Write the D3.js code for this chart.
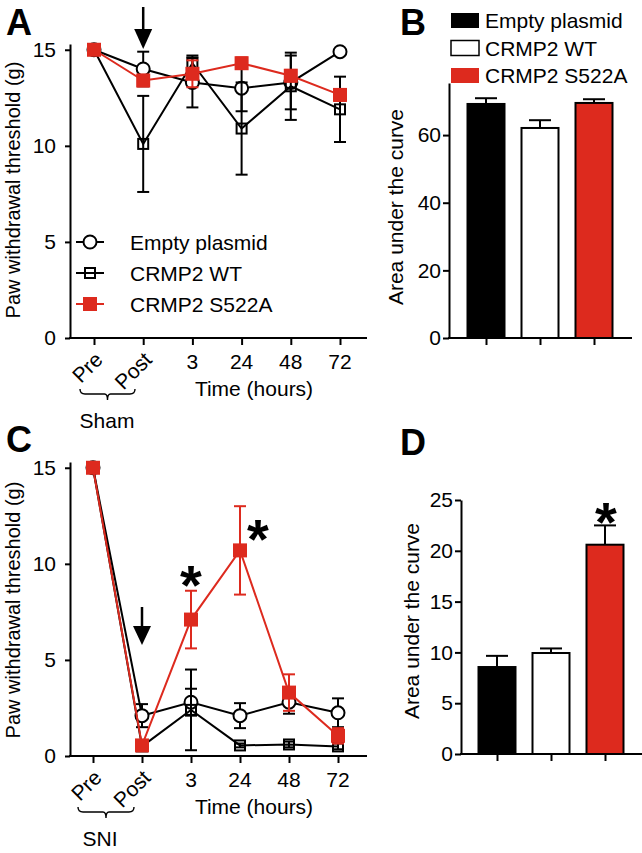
<!DOCTYPE html>
<html><head><meta charset="utf-8">
<script src="https://cdn.jsdelivr.net/npm/d3@7"></script>
<style>body{margin:0;background:#fff}</style>
</head><body>
<svg id="c" width="642" height="853" xmlns="http://www.w3.org/2000/svg"></svg>
<script>
// ---------- data ----------
const timeLabels = ["Pre", "Post", "3", "24", "48", "72"];
const seriesNames = ["Empty plasmid", "CRMP2 WT", "CRMP2 S522A"];
const lineTicks = [0, 5, 10, 15];

// Panel A (Sham)
const shamEmpty    = [15, 14.0, 13.3, 13.0, 13.3, 14.9];
const shamEmptyErr = [0, 0.9, 1.3, 1.2, 1.4, 0];
const shamWT       = [15, 10.1, 14.3, 10.9, 13.1, 11.9];
const shamWTErr    = [0, 2.5, 0.4, 2.4, 1.75, 1.7];
const shamS522A    = [15, 13.4, 13.75, 14.3, 13.65, 12.65];
const shamS522AErr = [0, 0.3, 0.7, 0.3, 0.3, 0.3];

// Panel B (AUC sham)
const aucSham    = [69.2, 62.1, 69.5];
const aucShamErr = [1.7, 2.3, 1.1];
const aucShamTicks = [0, 20, 40, 60];

// Panel C (SNI)
const sniEmpty    = [15, 2.1, 2.8, 2.1, 2.8, 2.25];
const sniEmptyErr = [0, 0.6, 0.7, 0.65, 0.6, 0.75];
const sniWT       = [15, 0.5, 2.4, 0.55, 0.6, 0.5];
const sniWTErr    = [0, 0.1, 2.1, 0.1, 0.15, 0.15];
const sniS522A    = [15, 0.55, 7.1, 10.7, 3.3, 1.05];
const sniS522AErr = [0, 0.1, 1.5, 2.3, 0.95, 0.4];

// Panel D (AUC SNI)
const aucSni    = [8.56, 9.94, 20.6];
const aucSniErr = [1.1, 0.45, 1.9];
const aucSniTicks = [0, 5, 10, 15, 20, 25];

// ---------- style ----------
const FONT = "'Liberation Sans', Arial, Helvetica, sans-serif";
const RED = "#dd2a1e";
const FS = 21;
const svg = d3.select("#c").style("font-family", FONT);

function styleAxis(g) {
  g.selectAll("path,line").attr("stroke", "#000").attr("stroke-width", 2);
  g.selectAll("text").attr("font-size", FS).attr("fill", "#000").style("font-family", FONT);
}

function linePanel(cfg) {
  const g = svg.append("g");
  const x = d3.scalePoint().domain(timeLabels).range(cfg.xr);
  const y = d3.scaleLinear().domain([0, 15.3]).range(cfg.yr);
  const y0 = y(0);
  // y axis
  const ya = g.append("g").attr("transform", `translate(${cfg.ax},0)`)
    .call(d3.axisLeft(y).tickValues(lineTicks).tickSize(5).tickSizeOuter(0).tickPadding(9));
  styleAxis(ya);
  // x axis ticks
  const xa = g.append("g").attr("transform", `translate(0,${y0})`)
    .call(d3.axisBottom(x).tickSize(7).tickFormat(""));
  xa.select(".domain").remove();
  styleAxis(xa);
  g.append("line").attr("x1", cfg.ax - 1).attr("x2", cfg.axEnd).attr("y1", y0).attr("y2", y0)
    .attr("stroke", "#000").attr("stroke-width", 2);
  // x labels
  timeLabels.forEach((t, i) => {
    if (i < 2) {
      g.append("text").attr("transform", `translate(${x(t) + 10},${y0 + 23}) rotate(-45)`)
        .attr("text-anchor", "end").attr("font-size", FS).text(t);
    } else {
      g.append("text").attr("x", x(t)).attr("y", y0 + 31).attr("text-anchor", "middle")
        .attr("font-size", FS).text(t);
    }
  });
  g.append("text").attr("x", 254).attr("y", y0 + 58).attr("text-anchor", "middle")
    .attr("font-size", FS).text("Time (hours)");
  // bracket
  const bx1 = cfg.bx[0], bx2 = cfg.bx[1], bm = (bx1 + bx2) / 2, by = y0 + 56;
  g.append("path")
    .attr("d", `M${bx1},${by - 5} Q${bx1},${by} ${bx1 + 5},${by} L${bm - 3},${by} Q${bm},${by} ${bm},${by + 6} Q${bm},${by} ${bm + 3},${by} L${bx2 - 5},${by} Q${bx2},${by} ${bx2},${by - 5}`)
    .attr("fill", "none").attr("stroke", "#000").attr("stroke-width", 1.4);
  g.append("text").attr("x", cfg.groupX).attr("y", y0 + 90).attr("text-anchor", "middle")
    .attr("font-size", FS).text(cfg.group);
  // y label
  g.append("text").attr("transform", `translate(20,${cfg.ylabY}) rotate(-90)`)
    .attr("text-anchor", "middle").attr("font-size", 20).text("Paw withdrawal threshold (g)");
  // arrow
  const axp = x("Post");
  g.append("line").attr("x1", axp).attr("x2", axp).attr("y1", cfg.arrow[0]).attr("y2", cfg.arrow[1] + 2)
    .attr("stroke", "#000").attr("stroke-width", 2.5);
  g.append("path").attr("d", `M${axp - 9},${cfg.arrow[1]} L${axp + 9},${cfg.arrow[1]} L${axp},${cfg.arrow[2]} Z`)
    .attr("fill", "#000");

  const series = cfg.series;
  series.forEach(s => {
    const col = s.red ? RED : "#000";
    const pts = timeLabels.map((t, i) => ({ t, v: s.v[i], e: s.e[i] }));
    // error bars
    const eb = g.append("g").attr("stroke", col).attr("stroke-width", 2);
    pts.filter(p => p.e > 0).forEach(p => {
      const cx = x(p.t);
      eb.append("line").attr("x1", cx).attr("x2", cx).attr("y1", y(p.v - p.e)).attr("y2", y(p.v + p.e));
      eb.append("line").attr("x1", cx - 6).attr("x2", cx + 6).attr("y1", y(p.v - p.e)).attr("y2", y(p.v - p.e));
      eb.append("line").attr("x1", cx - 6).attr("x2", cx + 6).attr("y1", y(p.v + p.e)).attr("y2", y(p.v + p.e));
    });
    g.append("path").datum(pts)
      .attr("d", d3.line().x(p => x(p.t)).y(p => y(p.v)))
      .attr("fill", "none").attr("stroke", col).attr("stroke-width", 2);
    pts.forEach(p => drawMarker(g, s.m, x(p.t), y(p.v)));
  });
  // legend
  if (cfg.legend) {
    series.forEach((s, i) => {
      const cy = 242 + i * 31;
      const col = s.red ? RED : "#000";
      g.append("line").attr("x1", 76).attr("x2", 104).attr("y1", cy).attr("y2", cy)
        .attr("stroke", col).attr("stroke-width", 2);
      drawMarker(g, s.m, 90, cy);
      g.append("text").attr("x", 130).attr("y", cy + 8).attr("font-size", FS).text(seriesNames[i]);
    });
  }
  // asterisks
  (cfg.stars || []).forEach(st => {
    g.append("text").attr("x", x(st.t) + st.dx).attr("y", y(st.v) + st.dy)
      .attr("text-anchor", "middle").attr("font-size", 56).attr("font-weight", "bold").text("*");
  });
  return { x, y };
}

function drawMarker(g, m, cx, cy) {
  if (m === "circle") {
    g.append("circle").attr("cx", cx).attr("cy", cy).attr("r", 6.5)
      .attr("fill", "#fff").attr("stroke", "#000").attr("stroke-width", 2);
  } else if (m === "square") {
    g.append("rect").attr("x", cx - 5).attr("y", cy - 5).attr("width", 10).attr("height", 10)
      .attr("fill", "none").attr("stroke", "#000").attr("stroke-width", 2);
  } else {
    g.append("rect").attr("x", cx - 7).attr("y", cy - 7).attr("width", 14).attr("height", 14)
      .attr("fill", RED);
  }
}

function barPanel(cfg) {
  const g = svg.append("g");
  const x = d3.scalePoint().domain(seriesNames).range(cfg.xr);
  const y = d3.scaleLinear().domain(cfg.dom).range(cfg.yr);
  const y0 = y(0);
  const fills = ["#000", "#fff", RED];
  const bw = 37;
  seriesNames.forEach((n, i) => {
    const v = cfg.v[i], e = cfg.e[i], cx = x(n);
    g.append("line").attr("x1", cx).attr("x2", cx).attr("y1", y(v)).attr("y2", y(v + e))
      .attr("stroke", "#000").attr("stroke-width", 2);
    g.append("line").attr("x1", cx - 11).attr("x2", cx + 11).attr("y1", y(v + e)).attr("y2", y(v + e))
      .attr("stroke", "#000").attr("stroke-width", 2);
    g.append("rect").attr("x", cx - bw / 2).attr("y", y(v)).attr("width", bw).attr("height", y0 - y(v))
      .attr("fill", fills[i]).attr("stroke", "#000").attr("stroke-width", 2);
  });
  const ya = g.append("g").attr("transform", `translate(${cfg.ax},0)`)
    .call(d3.axisLeft(y).tickValues(cfg.ticks).tickSize(6).tickSizeOuter(0).tickPadding(2));
  styleAxis(ya);
  const xa = g.append("g").attr("transform", `translate(0,${y0})`)
    .call(d3.axisBottom(x).tickSize(7).tickFormat(""));
  xa.select(".domain").remove();
  styleAxis(xa);
  g.append("line").attr("x1", cfg.ax - 1).attr("x2", cfg.axEnd).attr("y1", y0).attr("y2", y0)
    .attr("stroke", "#000").attr("stroke-width", 2);
  g.append("text").attr("transform", `translate(${cfg.ylabX},${cfg.ylabY}) rotate(-90)`)
    .attr("text-anchor", "middle").attr("font-size", FS).text("Area under the curve");
  if (cfg.legend) {
    seriesNames.forEach((n, i) => {
      const top = 13 + i * 27.5;
      g.append("rect").attr("x", 451).attr("y", top).attr("width", 28).attr("height", 15)
        .attr("fill", fills[i]).attr("stroke", "#000").attr("stroke-width", i === 1 ? 1.5 : 0);
      g.append("text").attr("x", 485).attr("y", top + 15).attr("font-size", FS).text(n);
    });
  }
  if (cfg.star !== undefined) {
    const i = cfg.star;
    g.append("text").attr("x", x(seriesNames[i]) + 1).attr("y", y(cfg.v[i] + cfg.e[i]) + 16)
      .attr("text-anchor", "middle").attr("font-size", 56).attr("font-weight", "bold").text("*");
  }
}

// ---------- panels ----------
linePanel({
  xr: [94, 340], yr: [338, 44], ax: 70, axEnd: 367, bx: [80, 135], group: "Sham", groupX: 107,
  ylabY: 190, arrow: [7, 29, 49], legend: true,
  series: [
    { v: shamEmpty, e: shamEmptyErr, m: "circle" },
    { v: shamWT, e: shamWTErr, m: "square" },
    { v: shamS522A, e: shamS522AErr, m: "red", red: true }
  ]
});
linePanel({
  xr: [93, 338], yr: [756, 462], ax: 70, axEnd: 367, bx: [78, 134], group: "SNI", groupX: 100,
  ylabY: 610, arrow: [607, 626, 645], legend: false,
  series: [
    { v: sniEmpty, e: sniEmptyErr, m: "circle" },
    { v: sniWT, e: sniWTErr, m: "square" },
    { v: sniS522A, e: sniS522AErr, m: "red", red: true }
  ],
  stars: [
    { t: "3", v: sniS522A[2] + sniS522AErr[2], dx: 0, dy: 13 },
    { t: "24", v: sniS522A[3] + sniS522AErr[3], dx: 18, dy: 52 }
  ]
});
barPanel({
  xr: [486, 594], yr: [338, 83], dom: [0, 75.4], ax: 449, axEnd: 632, ticks: aucShamTicks,
  v: aucSham, e: aucShamErr, ylabX: 403, ylabY: 207, legend: true
});
barPanel({
  xr: [497, 605], yr: [754, 500], dom: [0, 25], ax: 461, axEnd: 642, ticks: aucSniTicks,
  v: aucSni, e: aucSniErr, ylabX: 419, ylabY: 621, legend: false, star: 2
});

// panel letters
[["A", 6, 35], ["B", 400, 35], ["C", 6, 452], ["D", 400, 455]].forEach(([t, x, y]) => {
  svg.append("text").attr("x", x).attr("y", y).attr("font-size", 36).attr("font-weight", "bold").text(t);
});
</script>
</body></html>
